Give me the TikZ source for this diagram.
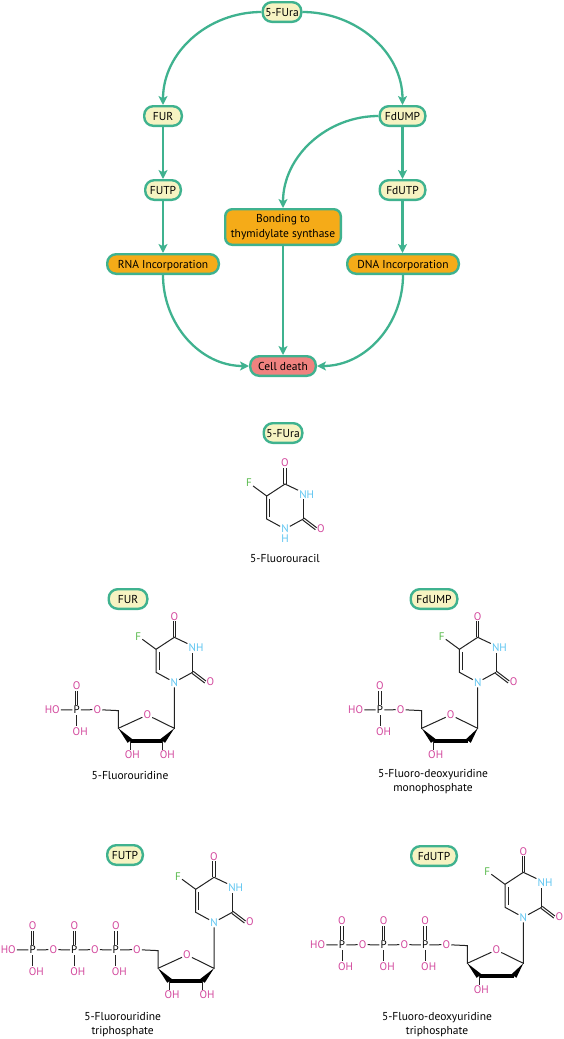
\documentclass[tikz,border=0pt]{standalone}
\usepackage{fontspec}
\setmainfont{PT Sans}
\usetikzlibrary{arrows.meta}
\definecolor{flowgreen}{HTML}{3FB28F}
\definecolor{creamfill}{HTML}{F6F3C2}
\definecolor{orangefill}{HTML}{F5AB18}
\definecolor{pinkfill}{HTML}{F0827F}
\definecolor{oxypink}{HTML}{D2479C}
\definecolor{nitroblue}{HTML}{5CC4F0}
\definecolor{fluorgreen}{HTML}{55B848}
\definecolor{bondgrey}{HTML}{222222}
\tikzset{
  pill/.style={draw=flowgreen,line width=2.4pt,rounded corners=9pt,minimum height=19.6pt,inner sep=0pt,font=\fontsize{11.5}{15}\selectfont},
  oneline/.style={text height=8pt,text depth=0pt},
  creampill/.style={pill,oneline,fill=creamfill},
  orangepill/.style={pill,fill=orangefill},
  flow/.style={draw=flowgreen,line width=2.3pt,-{Stealth[length=9pt,width=9pt,inset=2.2pt]}},
  atom/.style={inner sep=1pt,font=\fontsize{11}{12}\selectfont},
  oxy/.style={atom,text=oxypink},
  nitro/.style={atom,text=nitroblue},
  fluor/.style={atom,text=fluorgreen},
  phos/.style={atom,text=black},
  bond/.style={draw=bondgrey,line width=1pt},
  caption/.style={align=center,font=\fontsize{11.5}{14}\selectfont},
}
% uracil ring, origin on N1
\newcommand{\basering}{
\coordinate (c2) at (18.3,10);
\coordinate (c4) at (0,45);
\coordinate (c5) at (-18.3,33);
\coordinate (c6) at (-18.3,10);
\node[nitro] (n1) at (0,0) {N};
\node[nitro] (n3) at (21.7,34.7) {NH};
\node[oxy] (o4) at (0,66) {O};
\node[oxy] (o2) at (36,0.3) {O};
\node[fluor] (f5) at (-36,46) {F};
\draw[bond] (n1)--(c2);
\draw[bond] (c2)--(n3.south -| c2);
\draw[bond] (n3)--(c4)--(c5)--(c6)--(n1);
\draw[bond] ([shift={(3,-2.5)}]c5)--([shift={(3,2.5)}]c6);
\draw[bond] ([xshift=-1.2]c4)--([xshift=-1.2]o4.south);
\draw[bond] ([xshift=1.2]c4)--([xshift=1.2]o4.south);
\draw[bond] ([shift={(.6,1)}]c2)--([shift={(.6,1)}]o2.west);
\draw[bond] ([shift={(-.6,-1)}]c2)--([shift={(-.6,-1)}]o2.west);
\draw[bond] (c5)--(f5);
}
% sugar ring; #1 is the x of C2'
\newcommand{\sugarring}[1]{
\coordinate (s1) at (0,-46);
\coordinate (s2) at (#1,-58.7);
\coordinate (s3) at (-44.3,-58.7);
\coordinate (s4) at (-56,-46);
\coordinate (s5) at (-56,-28.3);
\node[oxy] (so) at (-27,-32.7) {O};
\node[oxy] (o5) at (-77,-27.3) {O};
\node[oxy] (oh3) at (-42,-72.7) {OH};
\draw[bond] (n1)--(s1)--(so)--(s4)--(s5)--(o5);
\fill[black] (s4)--([shift={(-2.4,-1.8)}]s3)--([shift={(2.4,1.8)}]s3)--cycle;
\fill[black] (s1)--([shift={(-2.4,1.8)}]s2)--([shift={(2.4,-1.8)}]s2)--cycle;
\draw[black,line width=3.6pt] (s3)--(s2);
\draw[bond] (s3)--(oh3.north -| s3);
}
\newcommand{\riboseoh}{
\node[oxy] (oh2) at (-7,-72.7) {OH};
\draw[bond] (s2)--(oh2.north -| s2);
}
% one phosphate; #1 is its name, #2 its x
\newcommand{\phosphate}[2]{
\node[phos] (p#1) at (#2,-27.7) {P};
\node[oxy] (po#1) at (#2,-3.7) {O};
\node[oxy] (ph#1) at ([xshift=3.6]#2,-49) {OH};
\draw[bond] ([xshift=-1.2]p#1.north)--([xshift=-1.2]po#1.south);
\draw[bond] ([xshift=1.2]p#1.north)--([xshift=1.2]po#1.south);
\draw[bond] (p#1)--(ph#1.north -| p#1);
}
\newcommand{\monophos}{
\phosphate{a}{-97.7}
\node[oxy] (hoa) at (-122,-27.3) {HO};
\draw[bond] (hoa)--(pa)--(o5);
}
\newcommand{\triphos}{
\phosphate{a}{-98.2}
\phosphate{b}{-139.7}
\phosphate{c}{-181.3}
\node[oxy] (oab) at (-119,-27.3) {O};
\node[oxy] (obc) at (-160.7,-27.3) {O};
\node[oxy] (hoc) at (-205.7,-27.3) {HO};
\draw[bond] (hoc)--(pc)--(obc)--(pb)--(oab)--(pa)--(o5);
}
\begin{document}
\begin{tikzpicture}[x=1pt,y=1pt]
\useasboundingbox (0,0) rectangle (564,-1039);
% pathway
\node[creampill,minimum width=38.6pt] (fura) at (282,-12) {5-FUra};
\node[creampill,minimum width=37.6pt] (fur) at (163,-116) {FUR};
\node[creampill,minimum width=45.6pt] (fdump) at (402.5,-116) {FdUMP};
\node[creampill,minimum width=35.6pt] (futp) at (163,-190) {FUTP};
\node[creampill,minimum width=45.6pt] (fdutp) at (402.5,-190) {FdUTP};
\node[orangepill,minimum width=115.6pt,minimum height=35.6pt,rounded corners=7pt,align=center] (bonding) at (283,-227) {Bonding to\\[0.5pt]thymidylate synthase};
\node[orangepill,oneline,minimum width=111.6pt] (rna) at (163,-264) {RNA Incorporation};
\node[orangepill,oneline,minimum width=111.6pt] (dna) at (403,-264) {DNA Incorporation};
\node[pill,oneline,fill=pinkfill,minimum width=65.6pt] (death) at (283,-366) {Cell death};
\draw[flow] (fura.west) to[out=180,in=90] (fur.north);
\draw[flow] (fura.east) to[out=0,in=90] (fdump.north);
\draw[flow] (fur)--(futp);
\draw[flow] (futp)--(rna);
\draw[flow] (fdump)--(fdutp);
\draw[flow] (fdutp)--(dna.north -| fdutp);
\draw[flow] (fdump.west) to[out=180,in=90] (bonding.north);
\draw[flow] (bonding)--(death);
\draw[flow] (rna.south) to[out=-90,in=180] (death.west);
\draw[flow] (dna.south) to[out=-90,in=0] (death.east);
% 5-FUra
\node[creampill,minimum width=38.6pt] (tagfura) at (283,-433) {5-FUra};
\begin{scope}[shift={(285,-529)},name prefix=fura-]
\basering
\node[nitro] (h1) at (0,-9.5) {H};
\end{scope}
\node[caption] (capfura) at (285,-558.5) {5-Fluorouracil};
% FUR
\node[creampill,minimum width=38.6pt] (tagfur) at (128,-599) {FUR};
\begin{scope}[shift={(174.3,-682.3)},name prefix=fur-]
\basering
\sugarring{-11.7}
\riboseoh
\monophos
\end{scope}
\node[caption] (capfur) at (130,-775) {5-Fluorouridine};
% FdUMP
\node[creampill,minimum width=46.6pt] (tagfdump) at (434,-599) {FdUMP};
\begin{scope}[shift={(477.7,-682.3)},name prefix=fdump-]
\basering
\sugarring{-9.3}
\monophos
\end{scope}
\node[caption] (capfdump) at (433,-782) {5-Fluoro-deoxyuridine\\monophosphate};
% FUTP
\node[creampill,minimum width=35.6pt] (tagfutp) at (125,-855) {FUTP};
\begin{scope}[shift={(214,-922.3)},name prefix=futp-]
\basering
\sugarring{-11.7}
\riboseoh
\triphos
\end{scope}
\node[caption] (capfutp) at (122.7,-1025) {5-Fluorouridine\\triphosphate};
% FdUTP
\node[creampill,minimum width=45.6pt] (tagfdutp) at (434,-856) {FdUTP};
\begin{scope}[shift={(523.3,-917.3)},name prefix=fdutp-]
\basering
\sugarring{-9.3}
\triphos
\end{scope}
\node[caption] (capfdutp) at (437,-1025) {5-Fluoro-deoxyuridine\\triphosphate};
\end{tikzpicture}
\end{document}
